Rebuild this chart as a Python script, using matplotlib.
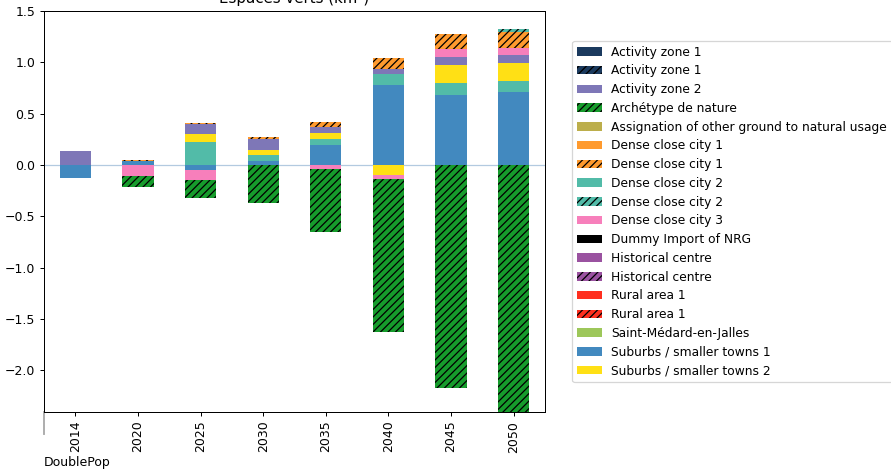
import numpy as np
import matplotlib.pyplot as plt
from matplotlib.patches import Patch

years = ['2014', '2020', '2025', '2030', '2035', '2040', '2045', '2050']

# series in stacking order (km²)
suburbs_1 = [-0.127, 0.043, -0.045, 0.036, 0.198, 0.779, 0.685, 0.708]
dense_2 = [0.0, 0.0, 0.227, 0.065, 0.058, 0.110, 0.110, 0.110]
suburbs_2 = [0.0, 0.0, 0.075, 0.048, 0.059, -0.094, 0.175, 0.172]
activity_2 = [0.133, 0.0, 0.097, 0.104, 0.058, 0.049, 0.078, 0.078]
dense_3 = [0.0, -0.104, -0.098, 0.0, -0.042, -0.042, 0.078, 0.074]
dense_1_h = [0.0, 0.009, 0.010, 0.016, 0.046, 0.104, 0.146, 0.156]
dense_2_h = [0.0, 0.0, 0.0, 0.0, 0.0, 0.0, 0.0, 0.026]
archetype_h = [0.0, -0.114, -0.177, -0.367, -0.608, -1.490, -2.171, -2.500]

COLORS = {
    'Activity zone 1': '#1b3a5e',
    'Activity zone 2': '#7e77b7',
    'Archétype de nature': '#169c2c',
    'Assignation of other ground to natural usage': '#bcae4b',
    'Dense close city 1': '#ff9a2e',
    'Dense close city 2': '#52bba8',
    'Dense close city 3': '#f77fbb',
    'Dummy Import of NRG': '#000000',
    'Historical centre': '#9a52a0',
    'Rural area 1': '#ff2f1f',
    'Saint-Médard-en-Jalles': '#9dc75a',
    'Suburbs / smaller towns 1': '#4289bf',
    'Suburbs / smaller towns 2': '#ffe015',
}

stack = [
    ('Suburbs / smaller towns 1', suburbs_1, False),
    ('Dense close city 2', dense_2, False),
    ('Suburbs / smaller towns 2', suburbs_2, False),
    ('Activity zone 2', activity_2, False),
    ('Dense close city 3', dense_3, False),
    ('Dense close city 1', dense_1_h, True),
    ('Dense close city 2', dense_2_h, True),
    ('Archétype de nature', archetype_h, True),
]

legend_entries = [
    ('Activity zone 1', False), ('Activity zone 1', True), ('Activity zone 2', False),
    ('Archétype de nature', True), ('Assignation of other ground to natural usage', False),
    ('Dense close city 1', False), ('Dense close city 1', True),
    ('Dense close city 2', False), ('Dense close city 2', True),
    ('Dense close city 3', False), ('Dummy Import of NRG', False),
    ('Historical centre', False), ('Historical centre', True),
    ('Rural area 1', False), ('Rural area 1', True),
    ('Saint-Médard-en-Jalles', False), ('Suburbs / smaller towns 1', False),
    ('Suburbs / smaller towns 2', False),
]

HATCH = '////'

fig = plt.figure(figsize=(891 / 90, 469 / 90), dpi=90)
ax = fig.add_axes([44 / 891, 1 - 412 / 469, 501 / 891, 401 / 469])

x = np.arange(len(years))
pos_base = np.zeros(len(years))
neg_base = np.zeros(len(years))
for name, vals, hatched in stack:
    vals = np.array(vals)
    base = np.where(vals >= 0, pos_base, neg_base)
    ax.bar(x, vals, 0.5, bottom=base, color=COLORS[name],
           hatch=HATCH if hatched else None,
           edgecolor='black' if hatched else COLORS[name], linewidth=0)
    pos_base += np.clip(vals, 0, None)
    neg_base += np.clip(vals, None, 0)

ax.axhline(0, color='#b3cae0', linewidth=1, zorder=0)

ax.set_xlim(-0.5, 7.5)
ax.set_ylim(-2.405, 1.5)
ax.set_xticks(x)
ax.set_xticklabels(years, rotation=90)
ax.set_yticks(np.arange(-2.0, 1.51, 0.5))
ax.set_title('Espaces verts (km²)', fontsize=12)

ax.plot([0, 0], [0, -0.055], transform=ax.transAxes, color='#aaaaaa',
        linewidth=1.5, clip_on=False)
ax.text(0, -0.125, 'DoublePop', transform=ax.transAxes, ha='left', va='center')

handles = [Patch(facecolor=COLORS[n], hatch=HATCH if h else None,
                 edgecolor='black' if h else COLORS[n], linewidth=0)
           for n, h in legend_entries]
ax.legend(handles, [n for n, _ in legend_entries], loc='center left',
          bbox_to_anchor=(1.042, 0.5), labelspacing=0.47, fontsize=9.8)

fig.savefig('out.png', dpi=90)
